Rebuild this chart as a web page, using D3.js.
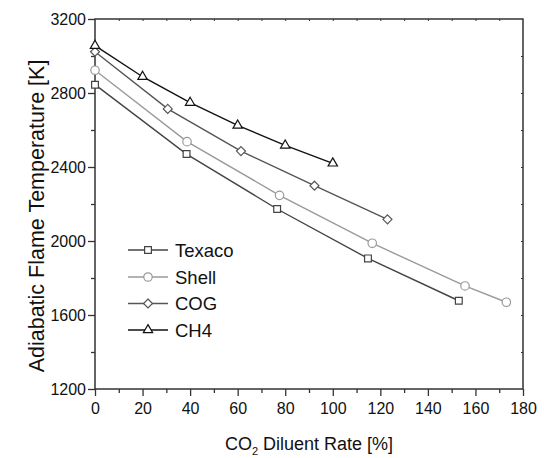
<!DOCTYPE html>
<html>
<head>
<meta charset="utf-8">
<script src="https://cdn.jsdelivr.net/npm/d3@7"></script>
<style>
  body { margin: 0; background: #fff; }
  text { font-family: "Liberation Sans", Arial, sans-serif; fill: #111; }
</style>
</head>
<body>
<svg width="544" height="458"></svg>
<script>
// data
var seriesNames = ['Texaco', 'Shell', 'COG', 'CH4']
var texacoX = [0, 38.5, 76.6, 114.8, 153]
var texacoY = [2845, 2470, 2173, 1906, 1677]
var shellX = [0, 38.7, 77.6, 116.6, 155.6, 173]
var shellY = [2923, 2537, 2247, 1988, 1757, 1669]
var cogX = [0, 30.6, 61.4, 92.3, 123]
var cogY = [3023, 2714, 2486, 2299, 2117]
var ch4X = [0, 20, 40, 60, 80, 100]
var ch4Y = [3056, 2888, 2748, 2625, 2517, 2420]
var xTicks = [0, 20, 40, 60, 80, 100, 120, 140, 160, 180]
var yTicks = [1200, 1600, 2000, 2400, 2800, 3200]

var colors = ['#444', '#9a9a9a', '#555', '#111']

// rhombus, a square turned 45 degrees
var rhombus = {
    draw: function(ctx, size){
        var r = Math.sqrt(size / 2)
        ctx.moveTo(0, -r)
        ctx.lineTo(r, 0)
        ctx.lineTo(0, r)
        ctx.lineTo(-r, 0)
        ctx.closePath()
    }
}
var symbols = [d3.symbolSquare, d3.symbolCircle, rhombus, d3.symbolTriangle]
var symSizes = [46, 56, 40, 38]

var series = [
    {name: seriesNames[0], x: texacoX, y: texacoY},
    {name: seriesNames[1], x: shellX, y: shellY},
    {name: seriesNames[2], x: cogX, y: cogY},
    {name: seriesNames[3], x: ch4X, y: ch4Y}
]

var svg = d3.select('svg')
var padL = 95, padR = 523, padT = 19, padB = 389
var font = '"Liberation Sans", Arial, sans-serif'

var x = d3.scaleLinear().domain([0, 180]).range([padL, padR])
var y = d3.scaleLinear().domain([1200, 3200]).range([padB, padT])

function noDomain(g){ g.select('.domain').remove() }

// frame
svg.append('rect')
    .attr('x', padL).attr('y', padT)
    .attr('width', padR - padL).attr('height', padB - padT)
    .attr('fill', 'none').attr('stroke', '#333').attr('stroke-width', 1.5)

// bottom axis
var xAxis = svg.append('g')
    .attr('transform', 'translate(0,' + padB + ')')
    .call(d3.axisBottom(x).tickValues(xTicks).tickSize(7).tickPadding(7))
    .call(noDomain)
xAxis.selectAll('line').attr('stroke', '#333').attr('stroke-width', 1.3)
xAxis.selectAll('text').attr('font-size', 16).attr('fill', '#111').attr('font-family', font)
svg.append('g')
    .attr('transform', 'translate(0,' + padB + ')')
    .call(d3.axisBottom(x).tickValues(d3.range(10, 180, 20)).tickSize(4).tickFormat(''))
    .call(noDomain)
    .selectAll('line').attr('stroke', '#333').attr('stroke-width', 1.3)

// left axis
var yAxis = svg.append('g')
    .attr('transform', 'translate(' + padL + ',0)')
    .call(d3.axisLeft(y).tickValues(yTicks).tickSize(7).tickPadding(2).tickFormat(d3.format('d')))
    .call(noDomain)
yAxis.selectAll('line').attr('stroke', '#333').attr('stroke-width', 1.3)
yAxis.selectAll('text').attr('font-size', 16).attr('fill', '#111').attr('font-family', font)
svg.append('g')
    .attr('transform', 'translate(' + padL + ',0)')
    .call(d3.axisLeft(y).tickValues(d3.range(1400, 3200, 400)).tickSize(4).tickFormat(''))
    .call(noDomain)
    .selectAll('line').attr('stroke', '#333').attr('stroke-width', 1.3)

// small inward ticks on top and right
svg.append('g')
    .attr('transform', 'translate(0,' + padT + ')')
    .call(d3.axisBottom(x).tickValues(d3.range(10, 180, 10)).tickSize(2).tickFormat(''))
    .call(noDomain)
    .selectAll('line').attr('stroke', '#333')
svg.append('g')
    .attr('transform', 'translate(' + padR + ',0)')
    .call(d3.axisLeft(y).tickValues(d3.range(1400, 3200, 200)).tickSize(2).tickFormat(''))
    .call(noDomain)
    .selectAll('line').attr('stroke', '#333')

// lines and markers
var line = d3.line()
    .x(function(d){ return x(d[0]) })
    .y(function(d){ return y(d[1]) })

series.forEach(function(s, i){
    var pts = s.x.map(function(v, j){ return [v, s.y[j]] })
    svg.append('path')
        .datum(pts)
        .attr('d', line)
        .attr('fill', 'none')
        .attr('stroke', colors[i])
        .attr('stroke-width', 1.4)
    svg.selectAll('.m' + i)
        .data(pts)
        .enter()
        .append('path')
        .attr('class', 'm' + i)
        .attr('d', d3.symbol().type(symbols[i]).size(symSizes[i]))
        .attr('transform', function(d){ return 'translate(' + x(d[0]) + ',' + y(d[1]) + ')' })
        .attr('fill', '#fff')
        .attr('stroke', colors[i])
        .attr('stroke-width', 1.2)
})

// legend
var legend = svg.append('g')
var legY = [250, 277, 303.5, 330]
series.forEach(function(s, i){
    var ly = legY[i]
    legend.append('line')
        .attr('x1', 128).attr('x2', 168)
        .attr('y1', ly).attr('y2', ly)
        .attr('stroke', colors[i]).attr('stroke-width', 1.4)
    legend.append('path')
        .attr('d', d3.symbol().type(symbols[i]).size(symSizes[i]))
        .attr('transform', 'translate(148,' + ly + ')')
        .attr('fill', '#fff')
        .attr('stroke', colors[i])
        .attr('stroke-width', 1.2)
    legend.append('text')
        .attr('x', 175).attr('y', ly + 6.5)
        .attr('font-size', 18.5)
        .text(s.name)
})

// axis titles
var xt = svg.append('text')
    .attr('x', 309).attr('y', 450)
    .attr('text-anchor', 'middle')
    .attr('font-size', 18)
xt.append('tspan').text('CO')
xt.append('tspan').attr('font-size', 11).attr('dy', 5).text('2')
xt.append('tspan').attr('dy', -5).text(' Diluent Rate [%]')

svg.append('text')
    .attr('transform', 'translate(44,216) rotate(-90)')
    .attr('text-anchor', 'middle')
    .attr('font-size', 21.5)
    .text('Adiabatic Flame Temperature [K]')
</script>
</body>
</html>
